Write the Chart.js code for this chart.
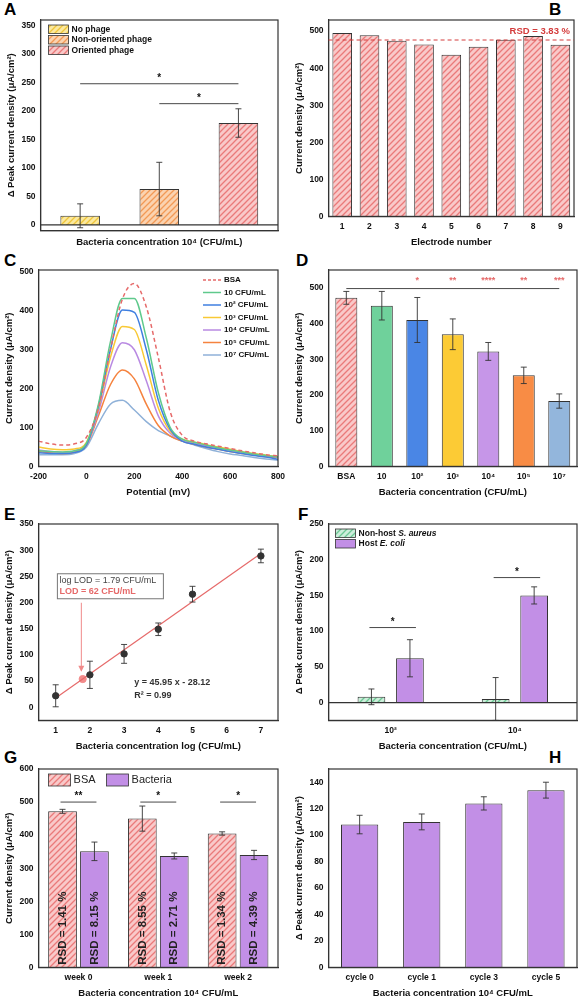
<!DOCTYPE html>
<html><head><meta charset="utf-8">
<script src="https://cdn.jsdelivr.net/npm/chart.js@4.4.0/dist/chart.umd.min.js"></script>
<style>
body{margin:0;background:#fff;width:580px;height:1003px;position:relative;overflow:hidden;font-family:"Liberation Sans",Arial,sans-serif}
canvas{position:absolute}
.L{position:absolute;font:bold 17px "Liberation Sans",Arial,sans-serif;color:#000}
</style></head><body>
<div class="L" style="left:4px;top:0">A</div>
<div class="L" style="left:549px;top:0">B</div>
<div class="L" style="left:4px;top:251px">C</div>
<div class="L" style="left:296px;top:251px">D</div>
<div class="L" style="left:4px;top:505px">E</div>
<div class="L" style="left:298px;top:505px">F</div>
<div class="L" style="left:4px;top:748px">G</div>
<div class="L" style="left:549px;top:748px">H</div>
<canvas id="cA" width="290" height="248" style="left:0;top:4px"></canvas>
<canvas id="cB" width="290" height="248" style="left:290px;top:4px"></canvas>
<canvas id="cC" width="290" height="248" style="left:0;top:254px"></canvas>
<canvas id="cD" width="290" height="248" style="left:290px;top:254px"></canvas>
<canvas id="cE" width="290" height="248" style="left:0;top:508px"></canvas>
<canvas id="cF" width="290" height="248" style="left:290px;top:508px"></canvas>
<canvas id="cG" width="290" height="250" style="left:0;top:753px"></canvas>
<canvas id="cH" width="290" height="250" style="left:290px;top:753px"></canvas>
<script>
// ---------- DATA ----------
const A_labels=['No phage','Non-oriented phage','Oriented phage'];
const A_vals=[16,63,179];
const A_err=[21,47,25];
const A_yticks=[0,50,100,150,200,250,300,350];

const B_labels=['1','2','3','4','5','6','7','8','9'];
const B_vals=[495,489,474,464,436,458,477,487,463];
const B_mean=476;
const B_yticks=[0,100,200,300,400,500];

const C_x=[-200,-150,-100,-50,0,50,100,150,200,250,300,350,400,450,500,550,600,650,700,750,800];
const C_names=['BSA','10 CFU/mL','10² CFU/mL','10³ CFU/mL','10⁴ CFU/mL','10⁵ CFU/mL','10⁷ CFU/mL'];
const C_bsa=[65,58,55,58,75,150,300,430,470,410,280,140,80,65,58,52,46,40,35,30,27];
const C_10=[40,38,37,40,60,160,320,432,432,330,190,100,70,62,55,48,42,37,32,28,24];
const C_1e2=[35,33,33,36,55,155,300,402,396,300,170,95,65,57,50,44,38,33,28,24,18];
const C_1e3=[50,45,43,45,62,150,280,360,352,260,150,90,70,63,56,50,44,38,33,29,25];
const C_1e4=[42,38,36,40,58,140,255,318,300,220,130,85,68,60,53,47,41,36,31,27,24];
const C_1e5=[38,35,33,37,55,130,210,248,225,160,105,78,65,57,50,44,38,33,29,25,22];
const C_1e7=[30,30,30,33,50,110,160,170,145,115,92,78,65,55,46,38,32,28,23,19,16];
const C_xticks=[-200,0,200,400,600,800];
const C_yticks=[0,100,200,300,400,500];

const D_labels=['BSA','10','10²','10³','10⁴','10⁵','10⁷'];
const D_vals=[472,450,410,370,322,255,183];
const D_err=[18,40,63,43,25,23,20];
const D_stars=['','','*','**','****','**','***'];
const D_yticks=[0,100,200,300,400,500];

const E_x=[1,2,3,4,5,7];
const E_y=[22,62,102,149,216,289];
const E_err=[21,26,18,12,15,13];
const E_lod=[1.79,54];
const E_slope=45.95, E_int=-28.12;
const E_xticks=[1,2,3,4,5,6,7];
const E_yticks=[0,50,100,150,200,250,300,350];

const F_labels=['10²','10⁴'];
const F_saur=[8,5];
const F_saurErr=[11,30];
const F_ecoli=[62,150];
const F_ecoliErr=[26,12];
const F_yticks=[0,50,100,150,200,250];

const G_labels=['week 0','week 1','week 2'];
const G_bsa=[472,450,405];
const G_bsaErr=[6,38,5];
const G_bac=[351,337,340];
const G_bacErr=[28,9,14];
const G_bsaRSD=['RSD = 1.41 %','RSD = 8.55 %','RSD = 1.34 %'];
const G_bacRSD=['RSD = 8.15 %','RSD = 2.71 %','RSD = 4.39 %'];
const G_stars=['**','*','*'];
const G_yticks=[0,100,200,300,400,500,600];

const H_labels=['cycle 0','cycle 1','cycle 3','cycle 5'];
const H_vals=[108,110,124,134];
const H_err=[7,6,5,6];
const H_yticks=[0,20,40,60,80,100,120,140];

// ---------- HELPERS ----------
const FF='"Liberation Sans", Arial, sans-serif';
function hatch(bg,line){
  const c=document.createElement('canvas');c.width=6;c.height=6;const x=c.getContext('2d');
  x.fillStyle=bg;x.fillRect(0,0,6,6);x.strokeStyle=line;x.lineWidth=1.3;
  x.beginPath();x.moveTo(0,6);x.lineTo(6,0);x.moveTo(-3,3);x.lineTo(3,-3);x.moveTo(3,9);x.lineTo(9,3);x.stroke();
  return x.createPattern(c,'repeat');
}
const P_red=hatch('#f9c9c9','#ea7a7a');
const P_yel=hatch('#fbe9a0','#efc53a');
const P_ora=hatch('#fbd3b0','#f29a56');
const P_grn=hatch('#cdeedb','#6cc894');
const PURPLE='#c28fe6';
const tickFont={family:FF,size:8.5,weight:'bold'};
const titleFont={family:FF,size:9.5,weight:'bold'};
const fixTicks=list=>(a=>{a.ticks=list.map(v=>({value:v}));});
function axes(xt,yt,extraX,extraY){
  return {
    x:Object.assign({grid:{display:false,drawTicks:true,tickLength:3,color:'#333'},border:{color:'#333',width:1.2},
      ticks:{color:'#111',font:tickFont,padding:2},title:{display:true,text:xt,color:'#111',font:titleFont,padding:{top:3}}},extraX||{}),
    y:Object.assign({grid:{display:false,drawTicks:true,tickLength:3,color:'#333'},border:{color:'#333',width:1.2},
      ticks:{color:'#111',font:tickFont,padding:2},title:{display:true,text:yt,color:'#111',font:titleFont,padding:{bottom:2}}},extraY||{})
  };
}
const framePlugin={id:'frame',afterDatasetsDraw(ch){const a=ch.chartArea,c=ch.ctx;c.save();c.strokeStyle='#333';c.lineWidth=1.2;c.strokeRect(a.left,a.top,a.right-a.left,a.bottom-a.top);c.restore();}};
function errBars(ch,di,errs,ys){
  const c=ch.ctx,meta=ch.getDatasetMeta(di),sc=ch.scales.y;
  c.save();c.strokeStyle='#333';c.lineWidth=0.9;
  meta.data.forEach((el,i)=>{
    const e=errs[i];if(e==null)return;
    const val=ys?ys[i]:ch.data.datasets[di].data[i];
    const x=el.x,y1=sc.getPixelForValue(val+e),y2=sc.getPixelForValue(val-e);
    c.beginPath();c.moveTo(x,y1);c.lineTo(x,y2);c.moveTo(x-3,y1);c.lineTo(x+3,y1);c.moveTo(x-3,y2);c.lineTo(x+3,y2);c.stroke();
  });c.restore();
}
function legendBoxes(ch,x0,y0,items,h){
  const c=ch.ctx;c.save();c.textBaseline='middle';
  items.forEach((it,i)=>{const y=y0+i*h;c.fillStyle=it.fill;c.fillRect(x0,y,20,h-2);c.strokeStyle='#333';c.lineWidth=0.8;c.strokeRect(x0,y,20,h-2);
    let x=x0+23;c.fillStyle='#111';
    it.parts.forEach(([t,it2])=>{c.font=(it2?'italic ':'')+'bold 8.5px '+FF;c.fillText(t,x,y+(h-2)/2);x+=c.measureText(t).width;});});
  c.restore();
}
function sig(ch,x1,x2,yv,txt,col){
  const c=ch.ctx,y=ch.scales.y.getPixelForValue(yv);c.save();c.strokeStyle='#333';c.lineWidth=0.9;
  c.beginPath();c.moveTo(x1,y);c.lineTo(x2,y);c.stroke();
  c.fillStyle=col||'#111';c.font='bold 10px '+FF;c.textAlign='center';c.fillText(txt,(x1+x2)/2,y-3);c.restore();
}
function zeroLine(ch){const c=ch.ctx,a=ch.chartArea,y0=ch.scales.y.getPixelForValue(0);c.save();c.strokeStyle='#333';c.lineWidth=1.2;c.beginPath();c.moveTo(a.left,y0);c.lineTo(a.right,y0);c.stroke();c.restore();}
const base={responsive:false,animation:false,plugins:{legend:{display:false},tooltip:{enabled:false}}};
function opts(o){return Object.assign({},base,o);}

// ---------- A ----------
new Chart('cA',{type:'bar',data:{labels:A_labels,datasets:[{data:A_vals,backgroundColor:[P_yel,P_ora,P_red],borderColor:'#333',borderWidth:1,barPercentage:0.5,categoryPercentage:1}]},
 options:opts({layout:{padding:{top:16,right:12,left:2}},scales:axes('Bacteria concentration 10⁴ (CFU/mL)','Δ Peak current density (μA/cm²)',
  {ticks:{display:false}},{min:-10,max:360,afterBuildTicks:fixTicks(A_yticks)})}),
 plugins:[framePlugin,{id:'a',afterDatasetsDraw(ch){
   zeroLine(ch);errBars(ch,0,A_err);
   const m=ch.getDatasetMeta(0).data,a=ch.chartArea;
   sig(ch,m[0].x,m[2].x,248,'*');sig(ch,m[1].x,m[2].x,213,'*');
   legendBoxes(ch,a.left+8,a.top+5,[{fill:P_yel,parts:[[A_labels[0]]]},{fill:P_ora,parts:[[A_labels[1]]]},{fill:P_red,parts:[[A_labels[2]]]}],10.5);
 }}]});

// ---------- B ----------
new Chart('cB',{type:'bar',data:{labels:B_labels,datasets:[{data:B_vals,backgroundColor:P_red,borderColor:'#333',borderWidth:1,barPercentage:0.72,categoryPercentage:1}]},
 options:opts({layout:{padding:{top:16,right:6}},scales:axes('Electrode number','Current density (μA/cm²)',{},{min:0,max:530,afterBuildTicks:fixTicks(B_yticks)})}),
 plugins:[framePlugin,{id:'b',afterDatasetsDraw(ch){
   const c=ch.ctx,a=ch.chartArea,y=ch.scales.y.getPixelForValue(B_mean);c.save();c.strokeStyle='#d43c3c';c.lineWidth=1;c.setLineDash([4,3]);
   c.beginPath();c.moveTo(a.left,y);c.lineTo(a.right,y);c.stroke();c.setLineDash([]);
   c.fillStyle='#d43c3c';c.font='bold 9.5px '+FF;c.textAlign='right';c.fillText('RSD = 3.83 %',a.right-4,y-6);c.restore();
 }}]});

// ---------- C ----------
const C_sets=[C_bsa,C_10,C_1e2,C_1e3,C_1e4,C_1e5,C_1e7];
const C_cols=['#e66a6a','#5fc98c','#3f7fe0','#f8c935','#b98ae2','#f5833f','#8fb1d8'];
new Chart('cC',{type:'line',data:{datasets:C_sets.map((s,i)=>({label:C_names[i],data:s.map((v,j)=>({x:C_x[j],y:v})),borderColor:C_cols[i],borderWidth:1.5,borderDash:i===0?[4,3]:[],pointRadius:0,cubicInterpolationMode:'monotone'}))},
 options:opts({layout:{padding:{top:16,right:12}},scales:axes('Potential (mV)','Current density (μA/cm²)',{type:'linear',min:-200,max:800,afterBuildTicks:fixTicks(C_xticks)},{min:0,max:505,afterBuildTicks:fixTicks(C_yticks)})}),
 plugins:[framePlugin,{id:'c',afterDatasetsDraw(ch){
   const c=ch.ctx,a=ch.chartArea;c.save();c.font='bold 8px '+FF;c.textBaseline='middle';
   C_names.forEach((n,i)=>{const y=a.top+10+i*12.5,x=a.right-75;c.strokeStyle=C_cols[i];c.lineWidth=1.5;c.setLineDash(i===0?[3,2]:[]);
     c.beginPath();c.moveTo(x,y);c.lineTo(x+18,y);c.stroke();c.setLineDash([]);c.fillStyle='#111';c.fillText(n,x+21,y);});
   c.restore();
 }}]});

// ---------- D ----------
const D_cols=[P_red,'#6fd19b','#4a86e5','#fccb35','#c696e8','#f88c45','#93b6dc'];
new Chart('cD',{type:'bar',data:{labels:D_labels,datasets:[{data:D_vals,backgroundColor:D_cols,borderColor:'#333',borderWidth:1,barPercentage:0.62,categoryPercentage:1}]},
 options:opts({layout:{padding:{top:16,right:3}},scales:axes('Bacteria concentration (CFU/mL)','Current density (μA/cm²)',{},{min:0,max:550,afterBuildTicks:fixTicks(D_yticks)})}),
 plugins:[framePlugin,{id:'d',afterDatasetsDraw(ch){
   errBars(ch,0,D_err);const m=ch.getDatasetMeta(0).data,c=ch.ctx;
   const y=ch.scales.y.getPixelForValue(498);c.save();c.strokeStyle='#333';c.lineWidth=0.9;c.beginPath();c.moveTo(m[0].x,y);c.lineTo(m[6].x,y);c.stroke();
   c.fillStyle='#e66a6a';c.font='bold 9px '+FF;c.textAlign='center';m.forEach((el,i)=>{if(D_stars[i])c.fillText(D_stars[i],el.x,y-6);});c.restore();
 }}]});

// ---------- E ----------
new Chart('cE',{type:'scatter',data:{datasets:[
  {data:E_x.map((x,i)=>({x:x,y:E_y[i]})),backgroundColor:'#333',borderColor:'#333',pointRadius:3.2},
  {type:'line',data:[{x:1,y:E_slope*1+E_int},{x:7,y:E_slope*7+E_int}],borderColor:'#e66a6a',borderWidth:1.2,pointRadius:0},
  {data:[{x:E_lod[0],y:E_lod[1]}],backgroundColor:'#f28b8b',borderColor:'#f28b8b',pointRadius:3.6}]},
 options:opts({layout:{padding:{top:16,right:12}},scales:axes('Bacteria concentration log (CFU/mL)','Δ Peak current density (μA/cm²)',
  {type:'linear',min:0.5,max:7.5,afterBuildTicks:fixTicks(E_xticks)},
  {min:-25,max:350,afterBuildTicks:fixTicks(E_yticks)})}),
 plugins:[framePlugin,{id:'e',afterDatasetsDraw(ch){
   errBars(ch,0,E_err,E_y);const c=ch.ctx,xs=ch.scales.x,ys=ch.scales.y;c.save();
   const bx=xs.getPixelForValue(1.05),by=ys.getPixelForValue(255),bw=106,bh=25;
   c.fillStyle='#fff';c.fillRect(bx,by,bw,bh);c.strokeStyle='#777';c.lineWidth=1;c.strokeRect(bx,by,bw,bh);
   c.textBaseline='middle';c.font='9px '+FF;c.fillStyle='#444';c.fillText('log LOD = 1.79 CFU/mL',bx+2,by+7);
   c.font='bold 9px '+FF;c.fillStyle='#e66a6a';c.fillText('LOD = 62 CFU/mL',bx+2,by+18);
   const ax=xs.getPixelForValue(1.75);c.strokeStyle='#f08a8a';c.beginPath();c.moveTo(ax,by+bh+4);c.lineTo(ax,ys.getPixelForValue(70));c.stroke();
   const ay=ys.getPixelForValue(70);c.fillStyle='#f08a8a';c.beginPath();c.moveTo(ax-3,ay-5);c.lineTo(ax+3,ay-5);c.lineTo(ax,ay+1);c.fill();
   c.fillStyle='#333';c.font='bold 9px '+FF;c.fillText('y = 45.95 x - 28.12',xs.getPixelForValue(3.3),ys.getPixelForValue(48));
   c.fillText('R² = 0.99',xs.getPixelForValue(3.3),ys.getPixelForValue(23));c.restore();
 }}]});

// ---------- F ----------
new Chart('cF',{type:'bar',data:{labels:F_labels,datasets:[
  {data:F_saur,backgroundColor:P_grn,borderColor:'#333',borderWidth:1,barPercentage:0.72,categoryPercentage:0.62},
  {data:F_ecoli,backgroundColor:PURPLE,borderColor:'#333',borderWidth:1,barPercentage:0.72,categoryPercentage:0.62}]},
 options:opts({layout:{padding:{top:16,right:3}},scales:axes('Bacteria concentration (CFU/mL)','Δ Peak current density (μA/cm²)',{},{min:-25,max:250,afterBuildTicks:fixTicks(F_yticks)})}),
 plugins:[framePlugin,{id:'f',afterDatasetsDraw(ch){
   zeroLine(ch);errBars(ch,0,F_saurErr);errBars(ch,1,F_ecoliErr);
   const m0=ch.getDatasetMeta(0).data,m1=ch.getDatasetMeta(1).data,a=ch.chartArea;
   sig(ch,m0[0].x-2,m1[0].x+6,105,'*');sig(ch,m0[1].x-2,m1[1].x+6,175,'*');
   legendBoxes(ch,a.left+7,a.top+5,[{fill:P_grn,parts:[['Non-host '],['S. aureus',1]]},{fill:PURPLE,parts:[['Host '],['E. coli',1]]}],10.5);
 }}]});

// ---------- G ----------
new Chart('cG',{type:'bar',data:{labels:G_labels,datasets:[
  {data:G_bsa,backgroundColor:P_red,borderColor:'#333',borderWidth:1,barPercentage:0.9,categoryPercentage:0.8},
  {data:G_bac,backgroundColor:PURPLE,borderColor:'#333',borderWidth:1,barPercentage:0.9,categoryPercentage:0.8}]},
 options:opts({layout:{padding:{top:16,right:12}},scales:axes('Bacteria concentration 10⁴ CFU/mL','Current density (μA/cm²)',{},{min:0,max:600,afterBuildTicks:fixTicks(G_yticks)})}),
 plugins:[framePlugin,{id:'g',afterDatasetsDraw(ch){
   errBars(ch,0,G_bsaErr);errBars(ch,1,G_bacErr);
   const m0=ch.getDatasetMeta(0).data,m1=ch.getDatasetMeta(1).data,c=ch.ctx,ys=ch.scales.y,a=ch.chartArea;
   m0.forEach((el,i)=>sig(ch,el.x-2,m1[i].x+2,500,G_stars[i]));
   c.save();c.font='bold 11.5px '+FF;c.fillStyle='#222';c.textBaseline='middle';
   [[m0,G_bsaRSD],[m1,G_bacRSD]].forEach(([m,t])=>m.forEach((el,i)=>{c.save();c.translate(el.x,ys.getPixelForValue(8));c.rotate(-Math.PI/2);c.fillText(t[i],0,0);c.restore();}));
   c.restore();
   c.save();c.font='11px '+FF;c.textBaseline='middle';
   [[P_red,'BSA',a.left+10],[PURPLE,'Bacteria',a.left+68]].forEach(([f,t,x])=>{c.fillStyle=f;c.fillRect(x,a.top+5,22,12);c.strokeStyle='#333';c.lineWidth=0.8;c.strokeRect(x,a.top+5,22,12);c.fillStyle='#222';c.fillText(t,x+25,a.top+11);});
   c.restore();
 }}]});

// ---------- H ----------
new Chart('cH',{type:'bar',data:{labels:H_labels,datasets:[{data:H_vals,backgroundColor:PURPLE,borderColor:'#333',borderWidth:1,barPercentage:0.6,categoryPercentage:1}]},
 options:opts({layout:{padding:{top:16,right:3}},scales:axes('Bacteria concentration 10⁴ CFU/mL','Δ Peak current density (μA/cm²)',{},{min:0,max:150,afterBuildTicks:fixTicks(H_yticks)})}),
 plugins:[framePlugin,{id:'h',afterDatasetsDraw(ch){errBars(ch,0,H_err);}}]});
</script></body></html>
